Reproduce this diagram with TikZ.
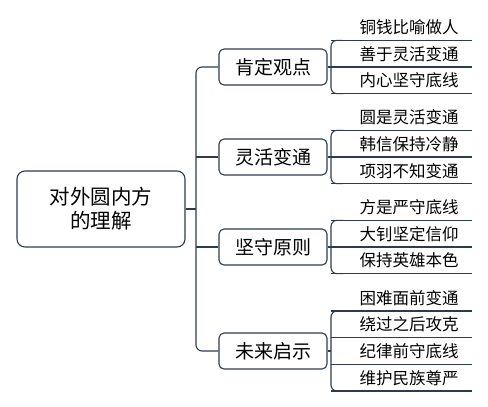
\documentclass[tikz,border=0pt]{standalone}
\usepackage{fontspec}
\setmainfont{Noto Sans CJK SC}
\usetikzlibrary{calc}
\definecolor{linkcol}{RGB}{45,58,82}

\begin{document}
\begin{tikzpicture}[x=1pt,y=-1pt,
  link/.style={draw=linkcol, line width=1.1pt},
  rootbox/.style={link, rounded corners=8pt, minimum width=168pt, minimum height=76pt,
    align=center, font=\fontsize{20.5}{24}\selectfont},
  topicbox/.style={link, rounded corners=5pt, minimum width=108pt, minimum height=36pt,
    font=\fontsize{19}{22}\selectfont},
  leaftext/.style={font=\fontsize{16.5}{18}\selectfont, inner sep=0pt}]
  \useasboundingbox (0,0) rectangle (488,407);
  \def\gap{26.67}
  % root and the four topics
  \node[rootbox] (root) at (101,209) {对外圆内方\\的理解};
  \node[topicbox] (t1) at (273,67) {肯定观点};
  \node[topicbox] (t2) at (273,157) {灵活变通};
  \node[topicbox] (t3) at (273,247) {坚守原则};
  \node[topicbox] (t4) at (273,351) {未来启示};
  % trunk
  \coordinate (trunk) at (196,209);
  \draw[link] (root.east) -- (trunk);
  \draw[link, rounded corners=6pt] (t1.west) -| (trunk) |- (t4.west);
  \draw[link] (t2.west) -- (t2.west -| trunk);
  \draw[link] (t3.west) -- (t3.west -| trunk);
  % leaves: text sits on a line
  \foreach \txt [count=\k] in {铜钱比喻做人,善于灵活变通,内心坚守底线}{
    \coordinate (u1-\k) at (331,{67+(\k-2)*\gap});
    \node[leaftext] (l1-\k) at (409,{67+(\k-2)*\gap-13}) {\txt};
    \draw[link] (u1-\k) -- ++(141,0);
  }
  \foreach \txt [count=\k] in {圆是灵活变通,韩信保持冷静,项羽不知变通}{
    \coordinate (u2-\k) at (331,{157+(\k-2)*\gap});
    \node[leaftext] (l2-\k) at (409,{157+(\k-2)*\gap-13}) {\txt};
    \draw[link] (u2-\k) -- ++(141,0);
  }
  \foreach \txt [count=\k] in {方是严守底线,大钊坚定信仰,保持英雄本色}{
    \coordinate (u3-\k) at (331,{247+(\k-2)*\gap});
    \node[leaftext] (l3-\k) at (409,{247+(\k-2)*\gap-13}) {\txt};
    \draw[link] (u3-\k) -- ++(141,0);
  }
  \foreach \txt [count=\k] in {困难面前变通,绕过之后攻克,纪律前守底线,维护民族尊严}{
    \coordinate (u4-\k) at (331,{351+(\k-2.5)*\gap});
    \node[leaftext] (l4-\k) at (409,{351+(\k-2.5)*\gap-13}) {\txt};
    \draw[link] (u4-\k) -- ++(141,0);
  }
  % topic to leaves
  \draw[link] (t1.east) -- (u1-2);
  \draw[link] (t2.east) -- (u2-2);
  \draw[link] (t3.east) -- (u3-2);
  \draw[link] (t4.east) -- (t4.east -| u4-1);
  \draw[link, rounded corners=6pt] ($(u1-1)+(12,0)$) -- (u1-1) -- (u1-3) -- ++(12,0);
  \draw[link, rounded corners=6pt] ($(u2-1)+(12,0)$) -- (u2-1) -- (u2-3) -- ++(12,0);
  \draw[link, rounded corners=6pt] ($(u3-1)+(12,0)$) -- (u3-1) -- (u3-3) -- ++(12,0);
  \draw[link, rounded corners=6pt] ($(u4-1)+(12,0)$) -- (u4-1) -- (u4-4) -- ++(12,0);
\end{tikzpicture}
\end{document}
